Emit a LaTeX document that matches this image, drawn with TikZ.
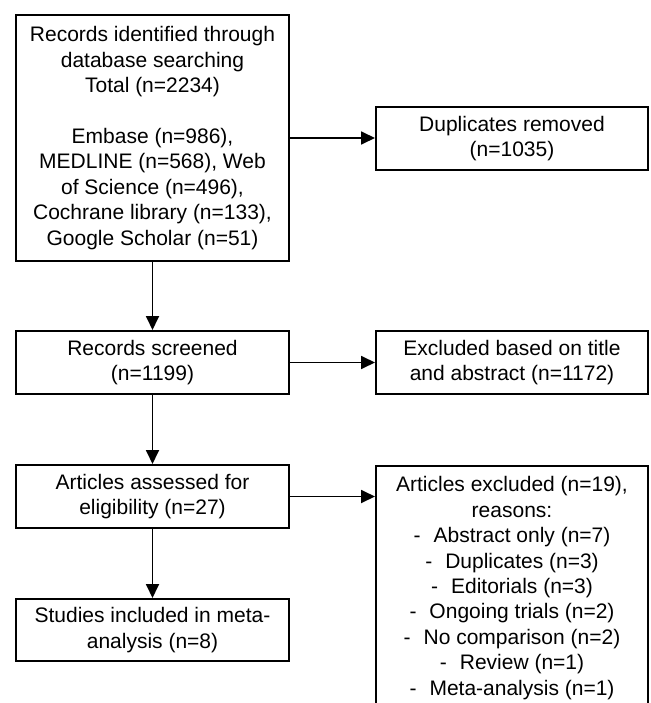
\documentclass[tikz,border=0pt]{standalone}
\usepackage{fontspec}
\setmainfont{Liberation Sans}
\usetikzlibrary{arrows.meta}
\begin{document}
\begin{tikzpicture}[x=1pt,y=-1pt,
  box/.style={draw, line width=2pt, inner sep=0pt, align=center,
    font=\fontsize{21}{25.4}\selectfont},
  wbox/.style={box, minimum width=273pt},
  arr/.style={line width=1.8pt, -{Triangle[length=14pt,width=13pt]}}]
\useasboundingbox (0,0) rectangle (650,703);
\fill[white] (0,0) rectangle (650,703);
\clip (0,0) rectangle (650,703);
\node[wbox, minimum height=246pt] (b1) at (152.5,138)
  {Records identified through\\database searching\\Total (n=2234)\\[25.4pt]Embase (n=986),\\MEDLINE (n=568), Web\\of Science (n=496),\\Cochrane library (n=133),\\Google Scholar (n=51)};
\node[box, minimum width=272pt, minimum height=63pt] (dup) at (512,138.5)
  {Duplicates removed\\(n=1035)};
\node[wbox, minimum height=63pt] (scr) at (152.5,362.5)
  {Records screened\\(n=1199)};
\node[box, minimum width=272pt, minimum height=63pt] (exc) at (512,362.5)
  {Excluded based on title\\and abstract (n=1172)};
\node[wbox, minimum height=63pt] (ass) at (152.5,496.5)
  {Articles assessed for\\eligibility (n=27)};
\node[box, minimum width=272pt, inner ysep=10.6pt, anchor=north] (rea) at (512,465)
  {Articles excluded (n=19),\\reasons:\\-\hspace{13pt}Abstract only (n=7)\\-\hspace{13pt}Duplicates (n=3)\\-\hspace{13pt}Editorials (n=3)\\-\hspace{13pt}Ongoing trials (n=2)\\-\hspace{13pt}No comparison (n=2)\\-\hspace{13pt}Review (n=1)\\-\hspace{13pt}Meta-analysis (n=1)};
\node[wbox, minimum height=62pt] (inc) at (152.5,630)
  {Studies included in meta-\\analysis (n=8)};
\draw[arr] (b1.south) -- (scr.north);
\draw[arr] (b1.east) -- (b1.east -| dup.west);
\draw[arr] (scr.east) -- (scr.east -| exc.west);
\draw[arr] (scr.south) -- (ass.north);
\draw[arr] (ass.east) -- (ass.east -| rea.west);
\draw[arr] (ass.south) -- (inc.north);
\end{tikzpicture}
\end{document}
